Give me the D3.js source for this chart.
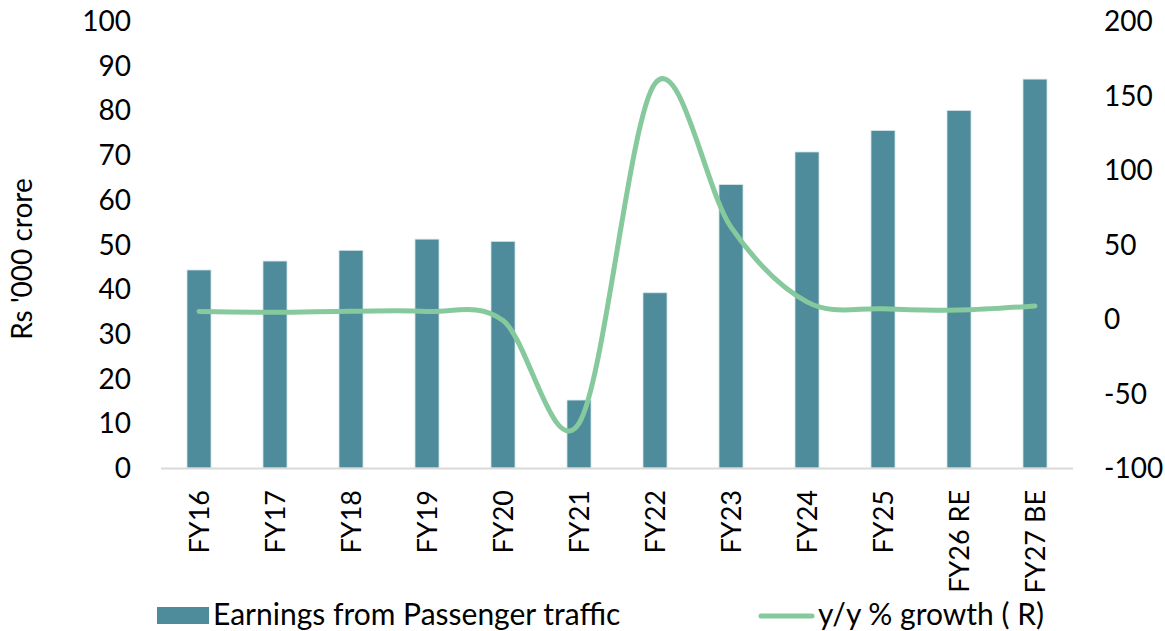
<!DOCTYPE html>
<style>
body { margin: 0; background: #fff; }
text { font-family: Lato, "Open Sans", sans-serif; fill: #000; }
</style>
<svg width="1165" height="631"></svg>
<script src="https://d3js.org/d3.v7.min.js"></script>
<script>
var years = ["FY16", "FY17", "FY18", "FY19", "FY20", "FY21", "FY22", "FY23", "FY24", "FY25", "FY26 RE", "FY27 BE"];
var earnings = [44.3, 46.3, 48.7, 51.2, 50.7, 15.2, 39.2, 63.4, 70.7, 75.5, 80.0, 87.0];
var growth = [5.0, 4.5, 5.2, 5.1, -1.0, -70.0, 158.0, 61.7, 11.5, 6.8, 6.0, 8.8];
var leftTicks = [0, 10, 20, 30, 40, 50, 60, 70, 80, 90, 100];
var rightTicks = [-100, -50, 0, 50, 100, 150, 200];

var svg = d3.select("svg");
var plot = {left: 161, right: 1073, top: 21, bottom: 468};

// excel style gap: outer padding is half the inner gap
var x = d3.scaleBand().domain(years).range([plot.left, plot.right])
  .paddingInner(0.684).paddingOuter(0.342);
var yL = d3.scaleLinear().domain([0, 100]).range([plot.bottom, plot.top]);
var yR = d3.scaleLinear().domain([-100, 200]).range([plot.bottom, plot.top]);

// bars
svg.append("g").selectAll("rect")
  .data(years)
  .enter().append("rect")
    .attr("x", function(d) { return x(d); })
    .attr("y", function(d, i) { return yL(earnings[i]); })
    .attr("width", x.bandwidth())
    .attr("height", function(d, i) { return yL(0) - yL(earnings[i]); })
    .attr("fill", "#4e8c9b")
    .attr("stroke", "#d6e6ea")
    .attr("stroke-width", 0.8);

// x axis line
svg.append("line")
  .attr("x1", plot.left).attr("x2", plot.right)
  .attr("y1", plot.bottom + 0.5).attr("y2", plot.bottom + 0.5)
  .attr("stroke", "#d9d9d9").attr("stroke-width", 2);

// growth line, smoothed like excel
var line = d3.line()
  .x(function(d, i) { return x(years[i]) + x.bandwidth() / 2; })
  .y(function(d) { return yR(d); })
  .curve(d3.curveCardinal.tension(0));

svg.append("path")
  .datum(growth)
  .attr("d", line)
  .attr("fill", "none")
  .attr("stroke", "#86c99c")
  .attr("stroke-width", 5)
  .attr("stroke-linecap", "round");

// left axis labels
svg.append("g").selectAll("text")
  .data(leftTicks)
  .enter().append("text")
    .attr("x", 131)
    .attr("y", function(d) { return yL(d); })
    .attr("dy", "0.36em")
    .attr("text-anchor", "end")
    .attr("font-size", 28)
    .text(function(d) { return d; });

// right axis labels
svg.append("g").selectAll("text")
  .data(rightTicks)
  .enter().append("text")
    .attr("x", 1104)
    .attr("y", function(d) { return yR(d); })
    .attr("dy", "0.36em")
    .attr("text-anchor", "start")
    .attr("font-size", 28)
    .text(function(d) { return d; });

// category labels, rotated
svg.append("g").selectAll("text")
  .data(years)
  .enter().append("text")
    .attr("transform", function(d) {
      return "translate(" + (x(d) + x.bandwidth() / 2) + ",490) rotate(-90)";
    })
    .attr("dy", "0.36em")
    .attr("text-anchor", "end")
    .attr("font-size", 27)
    .text(function(d) { return d; });

// y title
svg.append("text")
  .attr("transform", "translate(22,259) rotate(-90)")
  .attr("dy", "0.36em")
  .attr("text-anchor", "middle")
  .attr("font-size", 28)
  .text("Rs '000 crore");

// legend
svg.append("rect")
  .attr("x", 157).attr("y", 607).attr("width", 52).attr("height", 17)
  .attr("fill", "#4e8c9b");
svg.append("text")
  .attr("x", 213).attr("y", 625)
  .attr("font-size", 30)
  .text("Earnings from Passenger traffic");

svg.append("line")
  .attr("x1", 761).attr("x2", 812).attr("y1", 616).attr("y2", 616)
  .attr("stroke", "#86c99c").attr("stroke-width", 5).attr("stroke-linecap", "round");
svg.append("text")
  .attr("x", 818).attr("y", 625)
  .attr("font-size", 30)
  .text("y/y % growth ( R)");
</script>
